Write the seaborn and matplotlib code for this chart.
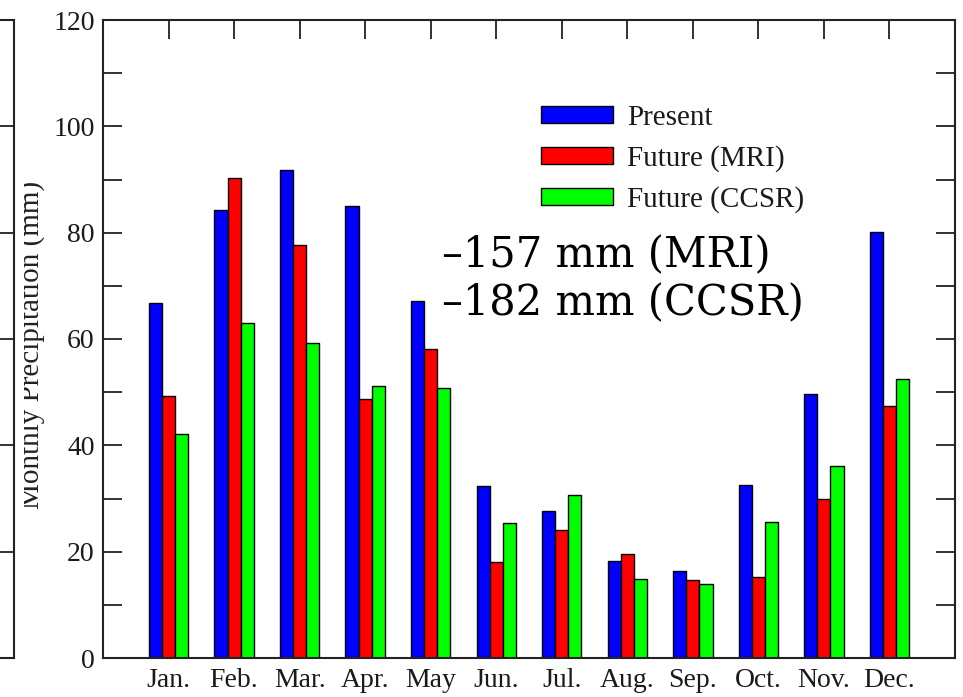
import matplotlib
matplotlib.use('Agg')
import matplotlib.pyplot as plt
import pandas as pd
import seaborn as sns
from matplotlib.patches import Patch
from matplotlib.transforms import Bbox, TransformedBbox

months = ['Jan.', 'Feb.', 'Mar.', 'Apr.', 'May', 'Jun.', 'Jul.', 'Aug.', 'Sep.', 'Oct.', 'Nov.', 'Dec.']
present = [66.8, 84.3, 91.8, 85.0, 67.2, 32.4, 27.7, 18.3, 16.3, 32.6, 49.7, 80.2]
future_mri = [49.2, 90.2, 77.6, 48.7, 58.1, 18.0, 24.0, 19.5, 14.7, 15.3, 29.9, 47.4]
future_ccsr = [42.1, 63.0, 59.3, 51.2, 50.7, 25.4, 30.7, 14.9, 14.0, 25.5, 36.1, 52.4]
series = ['Present', 'Future (MRI)', 'Future (CCSR)']
colors = ['#0000ff', '#ff0000', '#00ff00']

df = pd.DataFrame({
    'month': months * 3,
    'series': [s for s in series for _ in months],
    'value': present + future_mri + future_ccsr,
})

sns.set_style('ticks')
plt.rcParams['font.family'] = ['Liberation Serif', 'DejaVu Serif']

W, H = 963, 697
fig = plt.figure(figsize=(W / 100, H / 100), dpi=100)
x0, x1, y0, y1 = 103, 955, 20, 658
ax = fig.add_axes([x0 / W, 1 - y1 / H, (x1 - x0) / W, (y1 - y0) / H])

sns.barplot(data=df, x='month', y='value', hue='series', palette=colors,
            width=0.6, edgecolor='black', linewidth=1.0, saturation=1, ax=ax)

ax.set_xlim(-1, 12)
ax.set_ylim(0, 120)
ax.set_yticks(range(0, 121, 20))
ax.set_yticks(range(10, 120, 20), minor=True)
ax.set_xlabel('')
for s in ax.spines.values():
    s.set_visible(True)
    s.set_linewidth(1.5)
    s.set_color('#222222')
ax.tick_params(axis='both', which='both', direction='in', length=14, width=1.3,
               color='#222222', top=True, right=True, labelsize=20, labelcolor='#1a1a1a')
ax.tick_params(axis='y', pad=6)
ax.tick_params(axis='x', pad=7)

# label is cut off at the image edge in the original
lab = ax.set_ylabel('Monthly Precipitation (mm)', fontsize=21, color='#222222')
ax.yaxis.set_label_coords(-0.068, 0.49)
lab.set_clip_box(TransformedBbox(Bbox([[23.5 / W, 0], [1, 1]]), fig.transFigure))
lab.set_clip_on(True)

handles = [Patch(facecolor=c, edgecolor='black', linewidth=1.0) for c in colors]
ax.legend(handles, series, loc='upper left', bbox_to_anchor=((541 - x0) / (x1 - x0), (y1 - 105) / (y1 - y0)),
          frameon=False, fontsize=21, handlelength=2.47, handleheight=0.52,
          handletextpad=0.48, labelspacing=0.49, borderpad=0, borderaxespad=0, labelcolor='#1a1a1a')

ax.text((442 - x0) / (x1 - x0), (y1 - 267) / (y1 - y0), '\u2013157 mm (MRI)', transform=ax.transAxes,
        fontsize=30, family='DejaVu Serif', va='baseline', ha='left', color='black')
ax.text((442 - x0) / (x1 - x0), (y1 - 315) / (y1 - y0), '\u2013182 mm (CCSR)', transform=ax.transAxes,
        fontsize=30, family='DejaVu Serif', va='baseline', ha='left', color='black')

# edge of the neighbouring panel on the left
ax2 = fig.add_axes([-0.3, 1 - y1 / H, 0.3 + 13.5 / W, (y1 - y0) / H])
ax2.set_ylim(0, 120)
ax2.set_xticks([])
ax2.set_yticks(range(20, 120, 20))
ax2.yaxis.tick_right()
ax2.tick_params(axis='y', direction='in', length=14, width=1.3, color='#222222', labelright=False)
for s in ax2.spines.values():
    s.set_linewidth(1.5)
    s.set_color('#222222')

fig.savefig('out.png', dpi=100)
